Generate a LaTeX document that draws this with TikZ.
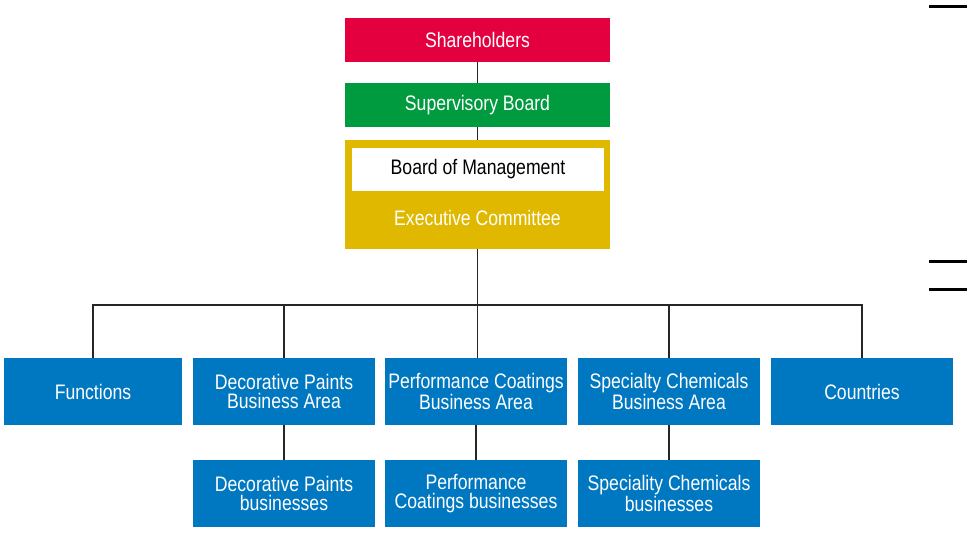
\documentclass[tikz,border=0pt]{standalone}
\usepackage{fontspec}
\setmainfont[FakeStretch=0.84]{Liberation Sans}
\definecolor{shred}{HTML}{E4003F}
\definecolor{sbgreen}{HTML}{009A3F}
\definecolor{ecgold}{HTML}{E0B800}
\definecolor{unitblue}{HTML}{0078C1}
\begin{document}
\begin{tikzpicture}[x=1pt, y=-1pt,
  every node/.style={font=\fontsize{21}{19.5}\selectfont, inner sep=0pt, align=center},
  topbox/.style={minimum width=265pt, minimum height=44pt, text=white},
  unit/.style={fill=unitblue, text=white, minimum width=182pt, minimum height=67pt},
  link/.style={draw=black!85, line width=1.6pt}]

\useasboundingbox (0,0) rectangle (967,542);

% ---- governance ----
\node[topbox, fill=shred] (sh) at (477.5,40) {Shareholders};
\node[topbox, fill=sbgreen] (sb) at (477.5,105) {Supervisory Board};
\node[fill=ecgold, minimum width=265pt, minimum height=109pt] (ec) at (477.5,194.5) {};
\node[fill=white, minimum width=252pt, minimum height=43pt] (bom) at (478,169.5) {Board of Management};
\node[text=white] (ecl) at (477.5,218) {Executive Committee};

\draw[link] (sh.south) -- (sb.north);
\draw[link] (sb.south) -- (ec.north);

% ---- business areas ----
\node[unit, minimum width=178pt] (fn) at (93,391.5) {Functions};
\node[unit] (dpa) at (284,391.5) {Decorative Paints\\Business Area};
\node[unit] (pca) at (476,391.5) {Performance Coatings\\Business Area};
\node[unit] (sca) at (669,391.5) {Specialty Chemicals\\Business Area};
\node[unit] (cty) at (862,391.5) {Countries};

\coordinate (br) at (477.5,305);
\draw[link] (ec.south) -- (br);
\draw[link] (br) -| (fn.north);
\draw[link] (br) -| (dpa.north);
\draw[link] (br) -| (sca.north);
\draw[link] (br) -| (cty.north);
\draw[link] (br) -- (br |- pca.north);

% ---- businesses ----
\node[unit] (dpb) at (284,493.5) {Decorative Paints\\businesses};
\node[unit] (pcb) at (476,493.5) {Performance\\Coatings businesses};
\node[unit] (scb) at (669,493.5) {Speciality Chemicals\\businesses};

\draw[link] (dpa.south) -- (dpb.north);
\draw[link] (pca.south) -- (pcb.north);
\draw[link] (sca.south) -- (scb.north);

% ---- marks at right edge ----
\draw[line width=3pt] (929,6) -- (967,6);
\draw[line width=3pt] (929,261) -- (967,261);
\draw[line width=3pt] (929,289) -- (967,289);

\end{tikzpicture}
\end{document}
